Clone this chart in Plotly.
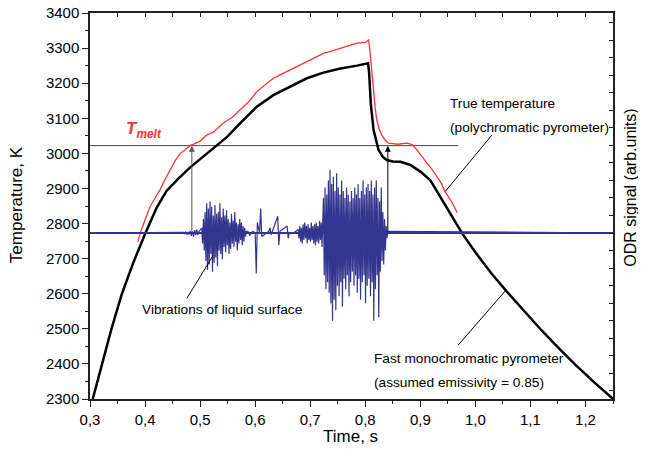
import numpy as np
import plotly.graph_objects as go

# ---------------- data ----------------
# Fast monochromatic pyrometer (black)
black_t = [0.305, 0.322, 0.339, 0.358, 0.379, 0.40, 0.421, 0.439, 0.461, 0.482, 0.50, 0.524,
           0.549, 0.573, 0.603, 0.633, 0.664, 0.694, 0.724, 0.755, 0.785, 0.805,
           0.807, 0.810, 0.815, 0.824, 0.832, 0.839, 0.85, 0.864, 0.882, 0.90, 0.918,
           0.936, 0.955, 0.976, 1.0, 1.03, 1.056, 1.09, 1.12, 1.15, 1.18, 1.215, 1.25]
black_T = [2300, 2400, 2500, 2600, 2690, 2770, 2845, 2893, 2929, 2960, 2984, 3014,
           3047, 3086, 3133, 3166, 3190, 3214, 3230, 3242, 3250, 3257,
           3230, 3143, 3067, 3010, 2990, 2981, 2977, 2976, 2967, 2948, 2924,
           2876, 2829, 2772, 2718, 2656, 2608, 2548, 2496, 2447, 2400, 2349, 2300]

# True temperature, polychromatic pyrometer (red)
red_t = [0.387, 0.391, 0.40, 0.409, 0.418, 0.427, 0.436, 0.445, 0.455, 0.464, 0.473, 0.482,
         0.50, 0.512, 0.524, 0.542, 0.56, 0.573, 0.59, 0.603, 0.618, 0.633, 0.648, 0.664,
         0.68, 0.694, 0.71, 0.724, 0.74, 0.755, 0.77, 0.785, 0.80, 0.806, 0.808, 0.810,
         0.813, 0.815, 0.818, 0.821, 0.825, 0.830, 0.836, 0.842, 0.85, 0.86, 0.876, 0.885,
         0.894, 0.903, 0.912, 0.921, 0.930, 0.938, 0.945, 0.950, 0.955, 0.961, 0.967]
red_T = [2748, 2772, 2810, 2848, 2872, 2896, 2925, 2953, 2980, 3000, 3012, 3022,
         3035, 3052, 3060, 3086, 3105, 3124, 3150, 3176, 3196, 3214, 3226, 3238,
         3250, 3261, 3273, 3285, 3292, 3299, 3306, 3314, 3316, 3323, 3300, 3266,
         3220, 3171, 3130, 3095, 3070, 3052, 3038, 3029, 3027, 3026, 3029, 3025,
         3010, 2990, 2972, 2955, 2934, 2915, 2891, 2880, 2867, 2850, 2831]

# Melting temperature level and the two arrow times
t_melt = 3022
t_melt_end = 0.969
arrow_times = [0.485, 0.841]
odr_level_T = 2772

# ODR signal (arb. units), baseline 0
odr_range_t = [0.30, 1.25]
b0_start, b0_step = 0.470, 0.002
b0 = [0.02, -0.03, 0.04, -0.05, 0.03, -0.04, 0.06, -0.08, 0.05, -0.1, 0.08, -0.05, 0.1, -0.06, 0.04]
b1_start, b1_step = 0.503, 0.0015
b1 = [0.15, -0.3, 0.4, -0.5, 0.6, -0.8, 0.85, -1.05, 0.7, -0.9, 0.9, -0.6, 0.75, -1.1, 0.5,
      -0.85, 0.8, -0.7, 0.55, -0.95, 0.6, -0.5, 0.85, -0.6, 0.45, -0.75, 0.7, -0.4, 0.5, -0.55,
      0.65, -0.35, 0.4, -0.6, 0.3, -0.45, 0.55, -0.3, 0.35, -0.4, 0.6, -0.25, 0.3, -0.5, 0.25,
      -0.3, 0.4, -0.2, 0.3, -0.35, 0.2, -0.25, 0.15, -0.1, 0.05]
sp_t = [0.587, 0.590, 0.596, 0.600, 0.602, 0.604, 0.608, 0.610, 0.612, 0.625, 0.627, 0.629,
        0.641, 0.643, 0.645, 0.658, 0.660, 0.662, 0.670]
sp_v = [0.05, -0.06, 0.05, 0.0, -1.15, 0.3, 0.0, 0.7, -0.1, 0.05, 0.15, -0.05,
        0.48, -0.35, 0.05, 0.2, -0.15, 0.02, 0.0]
b2a_start, b2a_step = 0.678, 0.0015
b2a = [0.1, -0.15, 0.2, -0.25, 0.15, -0.3, 0.25, -0.2, 0.3, -0.15, 0.2, -0.3, 0.25, -0.2, 0.15,
       -0.25, 0.3, -0.2, 0.2, -0.3, 0.25, -0.35, 0.3, -0.25, 0.2, -0.3, 0.35, -0.2, 0.3, -0.4, 0.45]
b2_start, b2_step = 0.724, 0.0015
b2 = [1.0, -1.2, 1.3, -1.6, 1.1, -1.4, 1.5, -1.7, 1.8, -2.0, 1.4, -2.5, 1.6, -1.9, 1.2, -2.2,
      1.7, -1.5, 1.3, -1.8, 1.1, -1.4, 1.5, -2.1, 1.2, -1.3, 1.0, -1.6, 1.3, -1.2, 1.1, -1.8,
      0.9, -1.4, 1.2, -1.1, 1.0, -1.5, 1.3, -1.2, 1.1, -1.7, 1.4, -1.3, 1.0, -1.9, 1.2, -1.4,
      1.5, -1.2, 1.1, -2.0, 1.3, -1.5, 1.4, -1.3, 1.2, -1.8, 1.5, -1.4, 1.1, -2.5, 1.3, -1.6,
      1.5, -1.2, 1.0, -2.4, 0.9, -1.1, 1.3, -0.8, 0.6, -0.9, 0.4, -0.5, 0.2, -0.15, 0.05]

x_tickvals = [0.3, 0.4, 0.5, 0.6, 0.7, 0.8, 0.9, 1.0, 1.1, 1.2]
x_ticktext = ["0,3", "0,4", "0,5", "0,6", "0,7", "0,8", "0,9", "1,0", "1,1", "1,2"]
y_tickvals = [2300, 2400, 2500, 2600, 2700, 2800, 2900, 3000, 3100, 3200, 3300, 3400]

# --------------- build ---------------
def seg(start, step, vals):
    return [start + i * step for i in range(len(vals))]

odr_t = ([odr_range_t[0]] + seg(b0_start, b0_step, b0) + seg(b1_start, b1_step, b1) + sp_t
         + seg(b2a_start, b2a_step, b2a) + seg(b2_start, b2_step, b2) + [odr_range_t[1]])
odr_v = [0.0] + b0 + b1 + sp_v + b2a + b2 + [0.0]

FONT = "Liberation Sans, Arial, sans-serif"
BLUE = "#33358f"
RED = "#ff3333"

fig = go.Figure()
fig.add_trace(go.Scatter(x=odr_range_t, y=[0, 0], mode="lines", yaxis="y2",
                         line=dict(color=BLUE, width=2), showlegend=False, hoverinfo="skip"))
fig.add_trace(go.Scatter(x=odr_t, y=odr_v, mode="lines", yaxis="y2",
                         line=dict(color=BLUE, width=1.2), showlegend=False))
fig.add_trace(go.Scatter(x=[0.3, t_melt_end], y=[t_melt, t_melt], mode="lines",
                         line=dict(color="#444444", width=1), showlegend=False))
fig.add_trace(go.Scatter(x=red_t, y=red_T, mode="lines",
                         line=dict(color=RED, width=1.3), showlegend=False))
fig.add_trace(go.Scatter(x=black_t, y=black_T, mode="lines",
                         line=dict(color="black", width=2.5), showlegend=False))
fig.add_trace(go.Scatter(x=[0.3, 1.25], y=[3400, 3400], xaxis="x2", mode="lines",
                         line=dict(width=0), showlegend=False, hoverinfo="skip"))

ann = []
for i, ta in enumerate(arrow_times):
    ann.append(dict(x=ta, y=t_melt, ax=ta, ay=odr_level_T, xref="x", yref="y",
                    axref="x", ayref="y", showarrow=True, arrowhead=2, arrowsize=1.2,
                    arrowwidth=1, arrowcolor="#555555" if i == 0 else "black", text=""))

# pointer lines
pointers = [((1.030, 3052), (0.945, 2891)),
            ((0.476, 2587), (0.524, 2710)),
            ((0.969, 2454), (1.056, 2611))]
for (x0, y0), (x1, y1) in pointers:
    fig.add_shape(type="line", x0=x0, y0=y0, x1=x1, y1=y1, xref="x", yref="y",
                  line=dict(color="black", width=1))

txt = dict(size=13.7, color="black", family=FONT)
for text, x, y in [("True temperature", 0.951, 3143),
                   ("(polychromatic pyrometer)", 0.951, 3075),
                   ("Vibrations of liquid surface", 0.391, 2556),
                   ("Fast monochromatic pyrometer", 0.8125, 2415),
                   ("(assumed emissivity = 0.85)", 0.8125, 2348)]:
    ann.append(dict(x=x, y=y, xref="x", yref="y", text=text, showarrow=False,
                    xanchor="left", yanchor="middle", font=txt))

ann.append(dict(x=0.398, y=3066, xref="x", yref="y",
                text="<b><i>T</i></b><sub><b><i>melt</i></b></sub>", showarrow=False,
                xanchor="center", yanchor="middle",
                font=dict(size=17, color=RED, family=FONT)))
ann.append(dict(x=-0.139, y=0.503, xref="paper", yref="paper", text="Temperature, K",
                textangle=-90, showarrow=False, xanchor="center", yanchor="middle",
                font=dict(size=17, family=FONT, color="black")))
ann.append(dict(x=1.034, y=0.547, xref="paper", yref="paper", text="ODR signal (arb.units)",
                textangle=-90, showarrow=False, xanchor="center", yanchor="middle",
                font=dict(size=16, family=FONT, color="black")))
ann.append(dict(x=0.499, y=-0.098, xref="paper", yref="paper", text="Time, s",
                showarrow=False, xanchor="center", yanchor="middle",
                font=dict(size=17, family=FONT, color="black")))

axis_line = dict(showline=True, linecolor="#222222", linewidth=1.5, showgrid=False,
                 zeroline=False, automargin=False)

fig.update_layout(
    width=638, height=445,
    margin=dict(l=82, r=33, t=5, b=54, autoexpand=False),
    paper_bgcolor="white", plot_bgcolor="white",
    font=dict(family=FONT, size=15, color="black"),
    annotations=ann,
    xaxis=dict(range=[0.3, 1.25], tickvals=x_tickvals, ticktext=x_ticktext,
               ticks="outside", ticklen=6, tickwidth=1.2, tickcolor="#222222",
               minor=dict(dtick=0.05, tick0=0.3, ticks="outside", ticklen=3, tickcolor="#222222"),
               tickfont=dict(size=15), ticklabeloverflow="allow", **axis_line),
    xaxis2=dict(range=[0.3, 1.25], overlaying="x", side="top", anchor="y",
                dtick=0.05, tick0=0.3, ticks="inside", ticklen=4, tickcolor="#222222",
                showticklabels=False, **axis_line),
    yaxis=dict(range=[2300, 3400], tickvals=y_tickvals, ticks="outside", ticklen=6,
               tickwidth=1.2, tickcolor="#222222",
               minor=dict(dtick=50, tick0=2300, ticks="outside", ticklen=3, tickcolor="#222222"),
               tickfont=dict(size=15), ticklabeloverflow="allow", **axis_line),
    yaxis2=dict(range=[-4.73, 6.27], overlaying="y", side="right", anchor="x",
                dtick=0.5, tick0=0, ticks="inside", ticklen=4, tickcolor="#222222",
                showticklabels=False, **axis_line),
)

fig.write_html("out.html")
